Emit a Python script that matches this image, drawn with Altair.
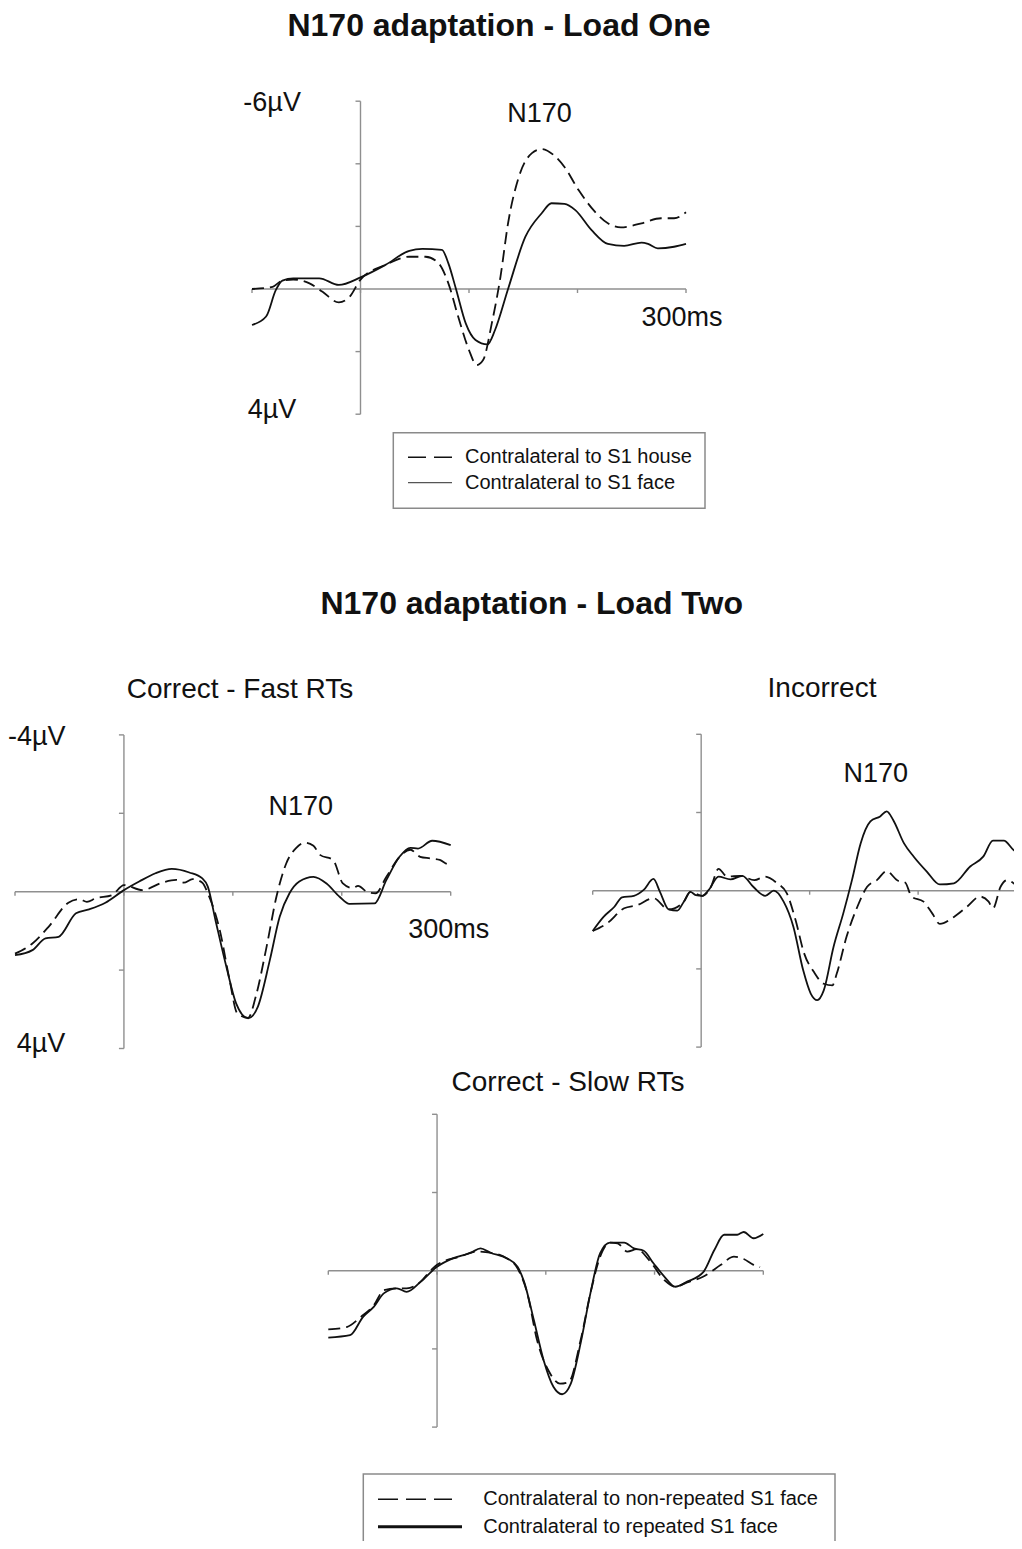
import altair as alt
import pandas as pd

# ---------------- data ----------------
# Load One panel
top_house_t = [-100, -81, -72, -62, -47, -35, -20, -10, 0, 23, 45, 60, 72, 81, 90, 100, 107, 113, 121, 129, 136, 146, 158, 167, 178, 188, 201, 216, 228, 240, 259, 277, 289, 300]
top_house_v = [0.0, -0.07, -0.27, -0.30, -0.18, 0.09, 0.43, 0.25, -0.30, -0.77, -1.03, -1.03, -0.82, -0.18, 0.88, 1.95, 2.43, 2.27, 1.10, -0.39, -2.10, -3.59, -4.34, -4.47, -4.28, -3.90, -3.16, -2.47, -2.10, -1.97, -2.10, -2.26, -2.26, -2.45]
top_face_t = [-100, -87, -78, -72, -62, -38, -20, 0, 23, 45, 57, 75, 81, 88, 97, 106, 117, 124, 136, 152, 167, 176, 188, 198, 213, 228, 243, 259, 265, 274, 289, 300]
top_face_v = [1.15, 0.88, 0.03, -0.27, -0.34, -0.34, -0.13, -0.37, -0.77, -1.22, -1.28, -1.25, -0.82, 0.0, 1.10, 1.63, 1.77, 1.31, 0.0, -1.67, -2.42, -2.74, -2.72, -2.52, -1.88, -1.44, -1.38, -1.48, -1.44, -1.30, -1.35, -1.44]

# Load Two - Correct, fast RTs
fast_rep_t = [-100, -84, -72, -60, -44, -32, -17, 0, 14, 29, 44, 60, 72, 77, 84, 94, 103, 114, 123, 134, 143, 152, 161, 174, 186, 198, 207, 230, 241, 253, 263, 270, 283, 300]
fast_rep_v = [1.62, 1.49, 1.19, 1.15, 0.55, 0.45, 0.28, -0.04, -0.26, -0.47, -0.58, -0.49, -0.34, -0.13, 0.72, 1.91, 2.85, 3.23, 2.93, 1.74, 0.64, 0.04, -0.26, -0.38, -0.21, 0.13, 0.31, 0.30, -0.30, -0.89, -1.12, -1.10, -1.30, -1.19]
fast_non_t = [-100, -84, -69, -51, -41, -34, -26, -11, 0, 17, 35, 48, 55, 63, 72, 77, 88, 97, 104, 114, 121, 131, 140, 149, 158, 166, 174, 180, 192, 201, 210, 215, 223, 231, 241, 253, 263, 272, 281, 290, 298, 300]
fast_non_v = [1.58, 1.32, 0.89, 0.28, 0.19, 0.26, 0.17, 0.09, -0.17, -0.04, -0.23, -0.30, -0.23, -0.32, -0.23, 0.04, 0.98, 2.25, 3.10, 3.22, 2.68, 1.40, 0.13, -0.72, -1.11, -1.25, -1.17, -0.94, -0.81, -0.21, -0.09, -0.15, 0.0, 0.04, -0.38, -0.89, -1.07, -0.89, -0.85, -0.81, -0.70, -0.74]

# Load Two - Incorrect
inc_rep_t = [-100, -90, -80, -73, -62, -53, -44, -38, -30, -22, -16, -10, -5, 1, 7, 16, 27, 38, 48, 59, 67, 76, 85, 94, 101, 107, 113, 122, 131, 139, 147, 156, 165, 171, 177, 187, 196, 208, 220, 233, 248, 260, 269, 279, 288, 296, 300]
inc_rep_v = [1.03, 0.67, 0.41, 0.17, 0.13, -0.02, -0.30, 0.03, 0.48, 0.51, 0.28, 0.03, 0.11, 0.13, -0.02, -0.36, -0.29, -0.38, -0.10, 0.13, 0.0, 0.28, 0.92, 2.03, 2.63, 2.80, 2.55, 1.44, 0.58, -0.27, -1.21, -1.77, -1.90, -2.03, -1.81, -1.21, -0.87, -0.49, -0.16, -0.19, -0.62, -0.87, -1.28, -1.28, -1.04, -0.91, -0.85]
inc_non_t = [-100, -87, -71, -59, -44, -30, -16, -10, 1, 9, 16, 24, 36, 49, 59, 70, 79, 87, 95, 104, 113, 121, 125, 134, 144, 153, 162, 171, 181, 188, 194, 205, 213, 220, 233, 245, 257, 265, 269, 276, 282, 288, 296, 300]
inc_non_v = [1.03, 0.84, 0.45, 0.37, 0.19, 0.48, 0.28, 0.03, 0.13, -0.10, -0.56, -0.36, -0.38, -0.27, -0.36, -0.19, 0.07, 0.75, 1.61, 2.08, 2.38, 2.42, 2.12, 1.18, 0.41, -0.10, -0.27, -0.50, -0.26, -0.21, 0.15, 0.28, 0.58, 0.85, 0.67, 0.41, 0.15, 0.28, 0.45, -0.10, -0.27, -0.19, 0.05, 0.10]

# Load Two - Correct, slow RTs
slow_rep_t = [-100, -80, -68, -58, -49, -37, -28, -15, 0, 15, 31, 40, 49, 64, 74, 80, 89, 98, 107, 115, 123, 132, 141, 150, 159, 172, 181, 190, 199, 209, 219, 230, 245, 255, 264, 276, 282, 291, 300]
slow_rep_v = [1.71, 1.65, 1.18, 0.92, 0.58, 0.45, 0.54, 0.28, -0.10, -0.32, -0.46, -0.57, -0.46, -0.32, -0.10, 0.28, 1.26, 2.29, 2.97, 3.16, 2.89, 1.86, 0.58, -0.45, -0.72, -0.72, -0.57, -0.51, -0.19, 0.15, 0.41, 0.28, 0.03, -0.53, -0.92, -0.92, -0.99, -0.83, -0.94]
slow_non_t = [-100, -83, -70, -58, -49, -37, -28, -15, -6, 0, 21, 37, 49, 64, 74, 83, 92, 104, 113, 121, 132, 141, 150, 159, 166, 175, 184, 195, 209, 219, 230, 245, 261, 273, 282, 291, 297]
slow_non_v = [1.50, 1.44, 1.18, 0.88, 0.50, 0.45, 0.45, 0.28, 0.0, -0.15, -0.36, -0.49, -0.46, -0.32, -0.06, 0.58, 1.78, 2.63, 2.89, 2.85, 1.78, 0.58, -0.36, -0.72, -0.70, -0.49, -0.55, -0.27, 0.24, 0.41, 0.30, 0.15, -0.15, -0.36, -0.30, -0.15, -0.09]

x_ticks = [-100, 0, 100, 200, 300]

# ---------------- layout / style ----------------
W, H = 1006, 1533
FONT = "Liberation Sans"
INK = "#111111"
AX = "#8f8f8f"
DASH = [12, 6]
LW = 1.8

# page placement of each panel: pixel x of -100 ms and 300 ms, pixel y of 0 uV, px per uV
PLACE = {
    "top":  dict(xa=252.0, xb=686.0, y0=289.0, s=31.3, vt=-6, vb=4),
    "fast": dict(xa=15.0, xb=450.7, y0=891.7, s=39.2, vt=-4, vb=4),
    "inc":  dict(xa=592.7, xb=1026.6, y0=890.7, s=39.1, vt=-4, vb=4),
    "slow": dict(xa=328.3, xb=763.3, y0=1270.7, s=39.1, vt=-4, vb=4),
}


def panel(name, dashed, solid, labels, clip=False):
    p = PLACE[name]
    k = (p["xb"] - p["xa"]) / 400.0
    x_dom = [-100 - (p["xa"] - 8) / k, -100 + (8 + W - p["xa"]) / k]
    y_dom = [(8 + H - p["y0"]) / p["s"], (8 - p["y0"]) / p["s"]]
    X = alt.X("t:Q", scale=alt.Scale(domain=x_dom, nice=False, zero=False), axis=None)
    Y = alt.Y("v:Q", scale=alt.Scale(domain=y_dom, nice=False, zero=False), axis=None)
    layers = []
    # vertical axis
    vax = pd.DataFrame({"t": [0], "v": [p["vt"]], "v2": [p["vb"]]})
    layers.append(alt.Chart(vax).mark_rule(color=AX, strokeWidth=1.4).encode(x=X, y=Y, y2="v2"))
    tk = 5.0 / k
    yt = list(range(p["vt"], p["vb"] + 1, 2))
    vtk = pd.DataFrame({"t": [-tk] * len(yt), "t2": [0] * len(yt), "v": yt})
    layers.append(alt.Chart(vtk).mark_rule(color=AX, strokeWidth=1.4).encode(x=X, x2="t2", y=Y))
    # horizontal baseline
    hax = pd.DataFrame({"t": [x_ticks[0]], "t2": [x_ticks[-1]], "v": [0]})
    layers.append(alt.Chart(hax).mark_rule(color=AX, strokeWidth=1.4).encode(x=X, x2="t2", y=Y))
    htk = pd.DataFrame({"t": x_ticks, "v": [0] * len(x_ticks), "v2": [4.0 / p["s"]] * len(x_ticks)})
    layers.append(alt.Chart(htk).mark_rule(color=AX, strokeWidth=1.4).encode(x=X, y=Y, y2="v2"))
    # waveforms
    dd = pd.DataFrame({"t": dashed[0], "v": dashed[1]})
    sd = pd.DataFrame({"t": solid[0], "v": solid[1]})
    layers.append(alt.Chart(dd).mark_line(color=INK, strokeWidth=LW, strokeDash=DASH,
                                          interpolate="monotone", clip=clip).encode(x=X, y=Y, order="t:Q"))
    layers.append(alt.Chart(sd).mark_line(color=INK, strokeWidth=LW,
                                          interpolate="monotone", clip=clip).encode(x=X, y=Y, order="t:Q"))
    # annotations
    for (lt, lv, txt, al) in labels:
        ld = pd.DataFrame({"t": [lt], "v": [lv], "label": [txt]})
        layers.append(alt.Chart(ld).mark_text(font=FONT, fontSize=27, color=INK, align=al,
                                              baseline="middle").encode(x=X, y=Y, text="label:N"))
    return alt.layer(*layers)


top = panel("top", (top_house_t, top_house_v), (top_face_t, top_face_v),
            [(-108, -5.94, "-6\u00b5V", "left"), (-104, 3.87, "4\u00b5V", "left"),
             (259, 0.93, "300ms", "left"), (165, -5.6, "N170", "center")])
fast = panel("fast", (fast_non_t, fast_non_v), (fast_rep_t, fast_rep_v),
             [(-106.4, -3.95, "-4\u00b5V", "left"), (-98.4, 3.89, "4\u00b5V", "left"),
              (261, 0.98, "300ms", "left"), (162.4, -2.16, "N170", "center")])
inc = panel("inc", (inc_non_t, inc_non_v), (inc_rep_t, inc_rep_v),
            [(160.9, -2.98, "N170", "center")], clip=True)
slow = panel("slow", (slow_non_t, slow_non_v), (slow_rep_t, slow_rep_v), [])

one = pd.DataFrame({"a": [0]})


def txt(s, x, y, size, weight="normal", align="center"):
    return alt.Chart(one).mark_text(font=FONT, fontSize=size, fontWeight=weight, color=INK,
                                    align=align, baseline="middle").encode(
        x=alt.value(x), y=alt.value(y), text=alt.value(s))


def hline(x1, x2, y, width=1.5, dash=None, color=INK):
    kw = dict(color=color, strokeWidth=width)
    if dash:
        kw["strokeDash"] = dash
    return alt.Chart(one).mark_rule(**kw).encode(x=alt.value(x1), x2=alt.value(x2), y=alt.value(y))


def box(x1, x2, y1, y2):
    return alt.Chart(one).mark_rect(fill="white", fillOpacity=0, stroke="#8a8a8a", strokeWidth=1.5).encode(
        x=alt.value(x1), x2=alt.value(x2), y=alt.value(y1), y2=alt.value(y2))


deco = alt.layer(
    txt("N170 adaptation - Load One", 491, 17.5, 32, "bold"),
    txt("N170 adaptation - Load Two", 523.7, 595.5, 32, "bold"),
    txt("Correct - Fast RTs", 232, 682, 28),
    txt("Incorrect", 814, 681, 28),
    txt("Correct - Slow RTs", 560, 1075, 28),
    # legend 1
    box(385.3, 697, 424.7, 500.3),
    hline(400, 444, 449.3, 1.5, [18, 8]),
    hline(400, 444, 474.7, 1.2, None, "#555555"),
    txt("Contralateral to S1 house", 457, 449, 20, align="left"),
    txt("Contralateral to S1 face", 457, 474.7, 20, align="left"),
    # legend 2
    box(355.3, 827, 1466, 1560),
    hline(370, 444, 1491.3, 1.5, [20, 8]),
    hline(370, 454, 1518.7, 3),
    txt("Contralateral to non-repeated S1 face", 475.3, 1491, 20, align="left"),
    txt("Contralateral to repeated S1 face", 475.3, 1518.7, 20, align="left"),
)

chart = alt.layer(top, fast, inc, slow, deco).resolve_scale(
    x="independent", y="independent"
).properties(
    width=W, height=H, padding=0,
    autosize=alt.AutoSizeParams(type="none"),
    background="white",
).configure_view(stroke=None)

chart.save("out.html", embed_options={"renderer": "svg", "actions": False})
